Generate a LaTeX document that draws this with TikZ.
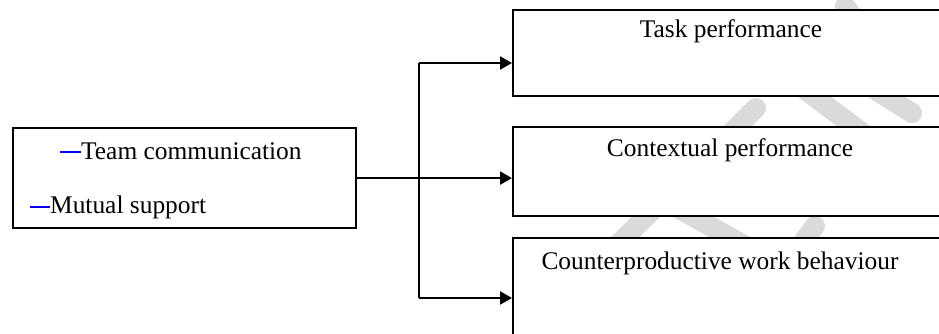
\documentclass[tikz,border=0pt]{standalone}
\usepackage{fontspec}
\setmainfont{Liberation Serif}
\usetikzlibrary{arrows.meta,calc}
\definecolor{wmgray}{RGB}{218,218,218}
\definecolor{dashblue}{RGB}{0,0,230}
\begin{document}
\begin{tikzpicture}[x=1pt,y=-1pt,
  box/.style={draw=black,line width=2.2pt,fill=white,inner sep=0pt,anchor=north west},
  lbl/.style={inner sep=0pt,anchor=base,font=\fontsize{25.4}{30}\selectfont},
  conn/.style={line width=2.2pt},
  arr/.style={conn,-{Triangle[length=12pt,width=13pt]}},
  wm/.style={line width=20pt,line cap=round,draw=wmgray}]
\useasboundingbox (0,0) rectangle (939,334);
\clip (0,0) rectangle (939,334);
\fill[white] (0,0) rectangle (939,334);
% watermark strokes, visible only in the gaps between the boxes
\begin{scope}
\clip (500,-5) rectangle (960,9) (500,95) rectangle (960,126) (500,215) rectangle (960,237);
\draw[wm] (756,108) -- (590,272);
\draw[wm] (760,56) -- (920,176);
\draw[wm] (820,55) -- (912,113);
\draw[wm] (845,6) -- (870,40);
\draw[wm] (600,165) -- (780,265);
\draw[wm] (815,226) -- (760,300);
\end{scope}
% boxes
\node[box,minimum width=343pt,minimum height=100pt] (src) at (12,127) {};
\node[box,minimum width=448pt,minimum height=86pt] (b1) at (512,9) {};
\node[box,minimum width=448pt,minimum height=89pt] (b2) at (512,126) {};
\node[box,minimum width=448pt,minimum height=120pt] (b3) at (512,237) {};
% texts
\node[lbl,anchor=base west] (tc) at (60,159) {\textcolor{dashblue}{\rule[6pt]{21pt}{2pt}}Team communication};
\node[lbl,anchor=base west] (ms) at (30,213) {\textcolor{dashblue}{\rule[5pt]{20pt}{2pt}}Mutual support};
\node[lbl] (l1) at (731,38) {Task performance};
\node[lbl] (l2) at (730,157) {Contextual performance};
\node[lbl] (l3) at (720,269) {Counterproductive work behaviour};
% connectors
\coordinate (j1) at (419,63);
\coordinate (j3) at (419,298);
\draw[arr] (src.east) -- (src.east -| b2.west);
\draw[conn] (j1) -- (j3);
\draw[arr] (j1) -- (j1 -| b1.west);
\draw[arr] (j3) -- (j3 -| b3.west);
\end{tikzpicture}
\end{document}
